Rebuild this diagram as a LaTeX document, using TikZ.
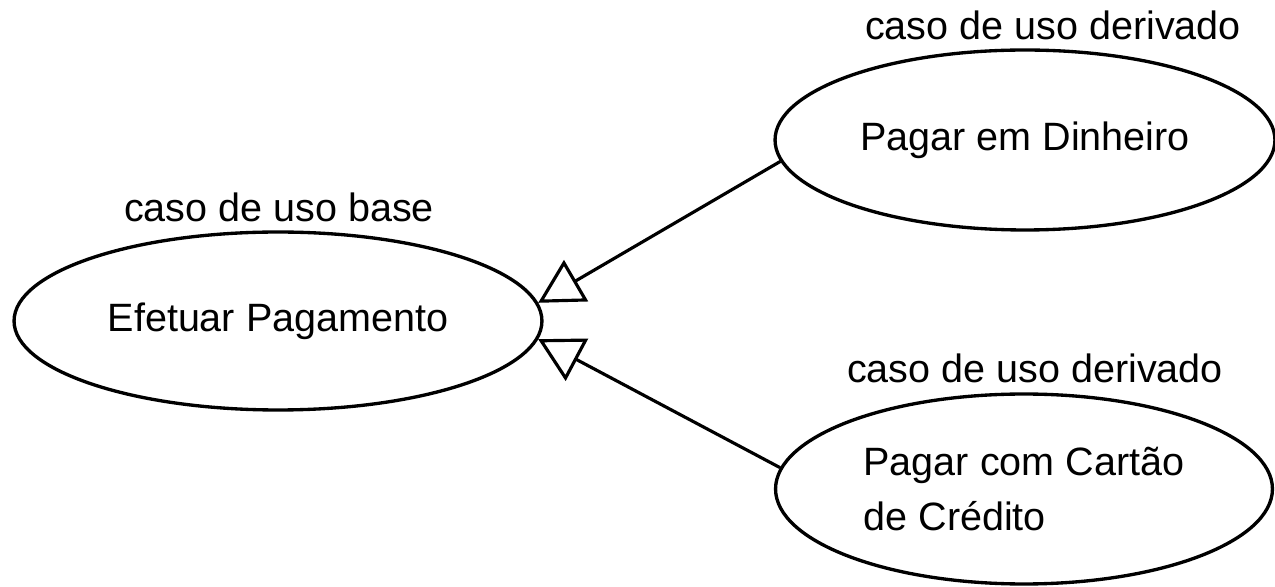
\documentclass[tikz,border=0pt]{standalone}
\usepackage{fontspec}
\setmainfont{Liberation Sans}
\usetikzlibrary{shapes.geometric, arrows.meta, positioning}
\begin{document}
\begin{tikzpicture}[x=0.02cm, y=-0.02cm,
    % Styles
    usecase/.style={draw, ellipse, line width=1.9pt, inner sep=0pt,
                    font=\fontsize{22.5}{31}\selectfont},
    lbl/.style={font=\fontsize{22.5}{31}\selectfont, inner sep=0pt, anchor=base},
    gen/.style={-{Triangle[open, length=25pt, width=27pt]}, line width=1.8pt},
  ]
  \useasboundingbox (0,0) rectangle (1275,587);

  % Base use case
  \node[usecase, minimum width=10.56cm, minimum height=3.56cm] (base) at (278, 321) {Efetuar Pagamento};
  \node[lbl] (baselbl) at (279, 222) {caso de uso base};

  % Derived use cases
  \node[usecase, minimum width=10cm, minimum height=3.6cm] (cash) at (1025, 140) {Pagar em Dinheiro};
  \node[lbl] (cashlbl) at (1053, 40) {caso de uso derivado};

  \node[usecase, minimum width=9.94cm, minimum height=3.8cm, align=left] (card) at (1024, 489) {Pagar com Cartão\\de Crédito};
  \node[lbl] (cardlbl) at (1035, 383) {caso de uso derivado};

  % Generalization
  \draw[gen] (cash.185) -- (base.4);
  \draw[gen] (card.175) -- (base.-4);

\end{tikzpicture}
\end{document}
